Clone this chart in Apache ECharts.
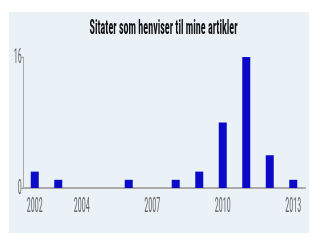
<!DOCTYPE html>
<html><head><meta charset="utf-8">
<script src="https://cdn.jsdelivr.net/npm/echarts@6/dist/echarts.min.js"></script>
<style>html,body{margin:0;padding:0;background:#fff}#c{width:320px;height:240px}</style>
</head><body><div id="c"></div>
<script>
var years = ['2002','2003','2004','2005','2006','2007','2008','2009','2010','2011','2012','2013'];
var citations = [2,1,0,0,1,0,1,2,8,16,4,1];
var labelYears = ['2002','2004','2007','2010','2013'];
var yTicks = [0,16];
var titleText = 'Sitater som henviser til mine artikler';

var FONTNAME = '"Roboto Condensed"';
var ctx = document.createElement('canvas').getContext('2d');
function measure(t, size, w){ ctx.font = (w||'normal')+' '+size+'px '+FONTNAME; return ctx.measureText(t).width; }
var TITLE_SIZE = 21, LABEL_SIZE = 20;
var titleScale = 148 / measure(titleText, TITLE_SIZE, 'bold');
var labelScale = 16 / measure('2002', LABEL_SIZE);

var chart = echarts.init(document.getElementById('c'), null, {renderer:'canvas'});
var isLabel = function(i,v){return labelYears.indexOf(v)>=0;};
chart.setOption({
  backgroundColor:'#ffffff',
  animation:false,
  title:{show:false, text:titleText},
  grid:{left:23, right:15, top:57, bottom:52},
  xAxis:{type:'category', data:years,
    axisLine:{lineStyle:{color:'#aaaaaa', width:2}},
    axisTick:{alignWithLabel:true, length:4, lineStyle:{color:'#aaaaaa'}, interval:isLabel},
    axisLabel:{show:false}},
  yAxis:{type:'value', min:yTicks[0], max:yTicks[1], interval:16,
    axisLine:{show:true, lineStyle:{color:'#aaaaaa'}},
    axisTick:{show:true, length:2, lineStyle:{color:'#aaaaaa'}},
    splitLine:{show:false},
    axisLabel:{show:false}},
  series:[{type:'bar', data:citations, barWidth:8,
    itemStyle:{color:'#0a0ac8'}}]
});

var g = [{type:'rect', z:-10, shape:{x:9,y:12,width:300,height:221}, style:{fill:'#eaf2f8'}},
  {type:'text', x:163.5, y:29, scaleX:titleScale, z:10,
   style:{text:titleText, font:'bold '+TITLE_SIZE+'px '+FONTNAME, fill:'#111', align:'center', verticalAlign:'middle'}}];
labelYears.forEach(function(y){
  var px = chart.convertToPixel({xAxisIndex:0}, y);
  var gb = chart.convertToPixel({yAxisIndex:0}, 0);
  g.push({type:'text', x:px, y:gb+19, scaleX:labelScale, z:10,
    style:{text:y, font:LABEL_SIZE+'px '+FONTNAME, fill:'#666', align:'center', verticalAlign:'middle'}});
});
yTicks.forEach(function(v){
  var py = chart.convertToPixel({yAxisIndex:0}, v);
  var lx = chart.convertToPixel({xAxisIndex:0}, years[0]) - 13;
  g.push({type:'text', x:lx, y:py+1, scaleX:labelScale, z:10,
    style:{text:String(v), font:LABEL_SIZE+'px '+FONTNAME, fill:'#666', align:'right', verticalAlign:'middle'}});
});
chart.setOption({graphic:g});
</script></body></html>
